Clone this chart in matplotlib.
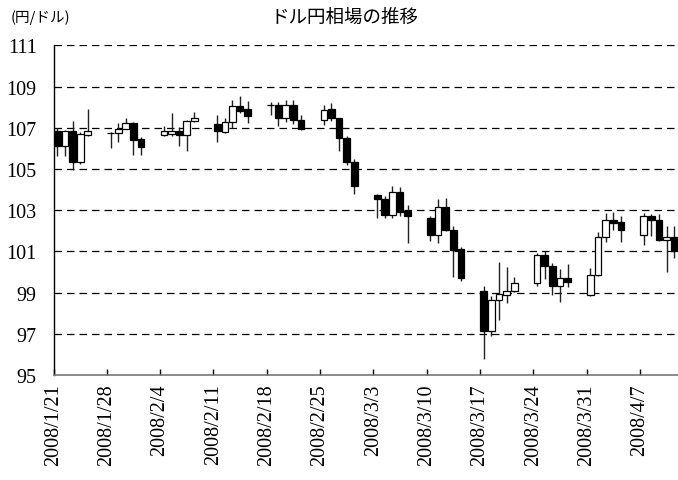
import matplotlib
matplotlib.use("Agg")
import matplotlib.pyplot as plt
import matplotlib.dates as mdates
import pandas as pd
import numpy as np

dates = [
    "2008-01-21", "2008-01-22", "2008-01-23", "2008-01-24", "2008-01-25",
    "2008-01-28", "2008-01-29", "2008-01-30", "2008-01-31", "2008-02-01",
    "2008-02-04", "2008-02-05", "2008-02-06", "2008-02-07", "2008-02-08",
    "2008-02-11", "2008-02-12", "2008-02-13", "2008-02-14", "2008-02-15",
    "2008-02-18", "2008-02-19", "2008-02-20", "2008-02-21", "2008-02-22",
    "2008-02-25", "2008-02-26", "2008-02-27", "2008-02-28", "2008-02-29",
    "2008-03-03", "2008-03-04", "2008-03-05", "2008-03-06", "2008-03-07",
    "2008-03-10", "2008-03-11", "2008-03-12", "2008-03-13", "2008-03-14",
    "2008-03-17", "2008-03-18", "2008-03-19", "2008-03-20", "2008-03-21",
    "2008-03-24", "2008-03-25", "2008-03-26", "2008-03-27", "2008-03-28",
    "2008-03-31", "2008-04-01", "2008-04-02", "2008-04-03", "2008-04-04",
    "2008-04-07", "2008-04-08", "2008-04-09", "2008-04-10", "2008-04-11",
]
open_ = [
    106.83, 106.13, 106.83, 105.33, 106.67,
    106.74, 106.73, 106.94, 107.23, 106.46,
    106.64, 106.70, 106.83, 106.65, 107.35,
    107.18, 106.81, 107.27, 108.06, 107.91,
    108.11, 108.11, 107.46, 108.11, 107.40,
    107.39, 107.91, 107.48, 106.50, 105.35,
    103.75, 103.54, 102.78, 103.87, 102.95,
    102.61, 101.80, 103.14, 102.05, 101.12,
    99.06, 97.12, 98.64, 98.90, 99.09,
    99.47, 100.83, 100.31, 99.34, 99.71,
    98.87, 99.85, 101.71, 102.54, 102.41,
    101.81, 102.70, 102.54, 101.55, 101.71,
]
high = [
    106.98, 106.90, 107.35, 106.80, 107.91,
    106.80, 107.23, 107.46, 107.30, 106.55,
    107.07, 107.72, 107.04, 107.40, 107.79,
    107.62, 107.46, 108.34, 108.54, 108.29,
    108.27, 108.27, 108.35, 108.35, 107.64,
    108.11, 108.20, 107.50, 106.62, 105.49,
    103.78, 103.70, 104.16, 104.11, 103.25,
    102.73, 103.54, 103.58, 102.22, 101.23,
    99.31, 98.82, 100.47, 100.23, 99.74,
    100.90, 101.03, 100.44, 100.15, 100.39,
    100.18, 101.96, 102.86, 102.93, 102.70,
    102.86, 102.80, 102.81, 102.22, 102.25,
]
low = [
    105.65, 105.65, 104.97, 105.24, 106.60,
    106.00, 106.33, 106.94, 105.66, 105.70,
    106.60, 106.59, 106.12, 105.87, 107.30,
    106.33, 106.73, 106.98, 107.74, 107.23,
    107.62, 107.09, 107.30, 107.20, 106.88,
    107.14, 107.35, 105.89, 105.21, 103.79,
    102.61, 102.61, 102.61, 102.70, 101.41,
    101.52, 101.41, 102.00, 99.74, 99.58,
    95.78, 96.88, 97.67, 98.48, 99.01,
    99.31, 99.66, 98.88, 98.56, 99.29,
    98.82, 99.79, 101.44, 102.05, 101.44,
    101.31, 101.76, 101.50, 100.02, 100.66,
]
close = [
    106.13, 106.83, 105.33, 106.70, 106.83,
    106.76, 106.94, 107.23, 106.42, 106.09,
    106.85, 106.83, 106.65, 107.35, 107.47,
    106.83, 107.27, 108.06, 107.83, 107.59,
    108.10, 107.46, 108.11, 107.38, 106.94,
    107.88, 107.48, 106.50, 105.33, 104.19,
    103.54, 102.77, 103.87, 102.90, 102.70,
    101.80, 103.14, 102.05, 101.08, 99.69,
    97.12, 98.64, 98.93, 99.09, 99.47,
    100.83, 100.31, 99.31, 99.69, 99.50,
    99.85, 101.71, 102.54, 102.38, 102.05,
    102.70, 102.54, 101.55, 101.71, 101.00,
]
tick_dates = ["2008-01-21", "2008-01-28", "2008-02-04", "2008-02-11", "2008-02-18",
              "2008-02-25", "2008-03-03", "2008-03-10", "2008-03-17", "2008-03-24",
              "2008-03-31", "2008-04-07"]
y_ticks = [95, 97, 99, 101, 103, 105, 107, 109, 111]
title = "ドル円相場の推移"
unit_label = "(円/ドル)"

serif = ["Liberation Serif", "DejaVu Serif"]
jp = ["Noto Sans CJK JP", "DejaVu Sans"]

fig = plt.figure(figsize=(6.78, 4.81), dpi=100)
ax = fig.add_axes([53.5 / 678, 1 - 376 / 481, 1 - 53.5 / 678, (376 - 46.4) / 481])

d = pd.to_datetime(dates)
x = mdates.date2num(d) + 0.5
o = np.array(open_); c = np.array(close); h = np.array(high); l = np.array(low)
up = c >= o

ax.vlines(x, l, h, color="#222222", linewidth=1.0, zorder=2)
ax.bar(x, np.abs(c - o), bottom=np.minimum(o, c), width=0.88,
       color=np.where(up, "white", "black"), edgecolor="black",
       linewidth=0.9, zorder=3)

xmin = mdates.date2num(pd.Timestamp("2008-01-21"))
xmax = mdates.date2num(pd.Timestamp("2008-04-12"))
ax.set_xlim(xmin, xmax)
ax.set_ylim(95, 111)

for v in y_ticks[1:]:
    ax.axhline(v, color="black", linewidth=0.9, linestyle=(0, (6, 4)), zorder=1)

ax.set_yticks(y_ticks)
ax.set_yticklabels([str(v) for v in y_ticks], fontfamily=serif, fontsize=14.5)
ax.tick_params(axis="y", length=0, pad=12)

td = pd.to_datetime(tick_dates)
ax.set_xticks(mdates.date2num(td))
ax.set_xticklabels([f"{t.year}/{t.month}/{t.day}" for t in td],
                   rotation=90, fontfamily=serif, fontsize=14.5)
ax.tick_params(axis="x", direction="in", length=4, width=1.0, pad=6)

for s in ["top", "right"]:
    ax.spines[s].set_visible(False)
ax.spines["left"].set_color("black")
ax.spines["left"].set_linewidth(1.0)
ax.spines["bottom"].set_color("#777777")
ax.spines["bottom"].set_linewidth(1.2)

fig.text(345 / 678, 1 - 18 / 481, title, ha="center", va="center",
         fontfamily=jp, fontsize=13.3)
fig.text(11 / 678, 1 - 18 / 481, unit_label, ha="left", va="center",
         fontfamily=jp, fontsize=10.5)

fig.savefig("out.png", dpi=100)
